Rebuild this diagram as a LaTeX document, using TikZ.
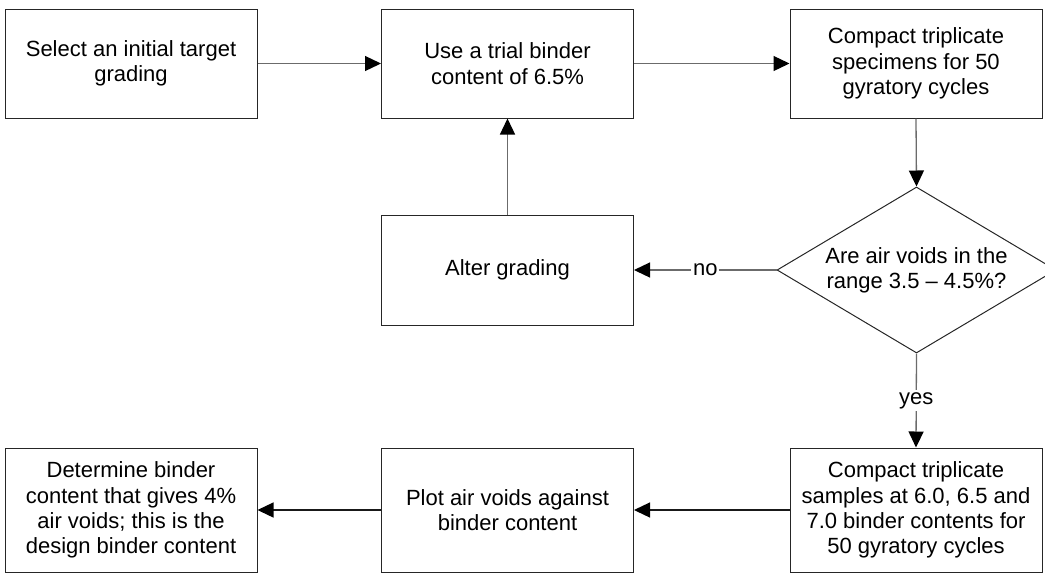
\documentclass[tikz,border=0pt]{standalone}
\usepackage{fontspec}
\setmainfont{Liberation Sans}
\usetikzlibrary{shapes.geometric,arrows.meta}

\tikzset{
  stepbox/.style={draw=black!85, line width=1pt, minimum width=252pt,
    minimum height=109pt, inner sep=2pt, align=center,
    font=\fontsize{22}{25.3}\selectfont},
  tallbox/.style={stepbox, minimum height=124pt},
  decision/.style={draw=black!85, line width=1pt, shape=diamond,
    shape aspect=1.68, minimum width=279pt, minimum height=166pt,
    inner sep=0pt, align=center, font=\fontsize{22}{25.3}\selectfont},
  flow/.style={draw=black!58, line width=1.3pt,
    -{Triangle[length=16pt,width=15pt,color=black]}},
  flowdark/.style={flow, draw=black!90},
  answer/.style={fill=white, inner sep=2pt, font=\fontsize{22}{25.3}\selectfont}
}

\begin{document}
\begin{tikzpicture}[x=1pt, y=-1pt]
  \useasboundingbox (0,0) rectangle (1045,574);
  \clip (0,0) rectangle (1045,574);

  % top row
  \node[stepbox] (grading)  at (131,63.5)   {Select an initial target\\grading};
  \node[stepbox] (trial)    at (507.5,63.5) {Use a trial binder\\content of 6.5\%};
  \node[stepbox] (compact)  at (916,63.5)   {Compact triplicate\\specimens for 50\\gyratory cycles};

  % middle row
  \node[stepbox, minimum height=110pt] (alter) at (507.5,270) {Alter grading};
  \node[decision] (check) at (916.5,270) {Are air voids in the\\range 3.5 -- 4.5\%?};

  % bottom row
  \node[tallbox] (samples)  at (916,510)   {Compact triplicate\\samples at 6.0, 6.5 and\\7.0 binder contents for\\50 gyratory cycles};
  \node[tallbox] (plot)     at (507.5,510) {Plot air voids against\\binder content};
  \node[tallbox] (design)   at (131,510)   {Determine binder\\content that gives 4\%\\air voids; this is the\\design binder content};

  % connectors
  \draw[flow] (grading.east) -- (trial.west);
  \draw[flow] (trial.east) -- (compact.west);
  \draw[flow] (compact.south) -- (check.north);
  \draw[flow] (check.west) -- node[answer] {no} (alter.east);
  \draw[flow] (alter.north) -- (trial.south);
  \draw[flow] (check.south) -- node[answer] {yes} (samples.north);
  \draw[flowdark] (samples.west) -- (plot.east);
  \draw[flowdark] (plot.west) -- (design.east);
\end{tikzpicture}
\end{document}
